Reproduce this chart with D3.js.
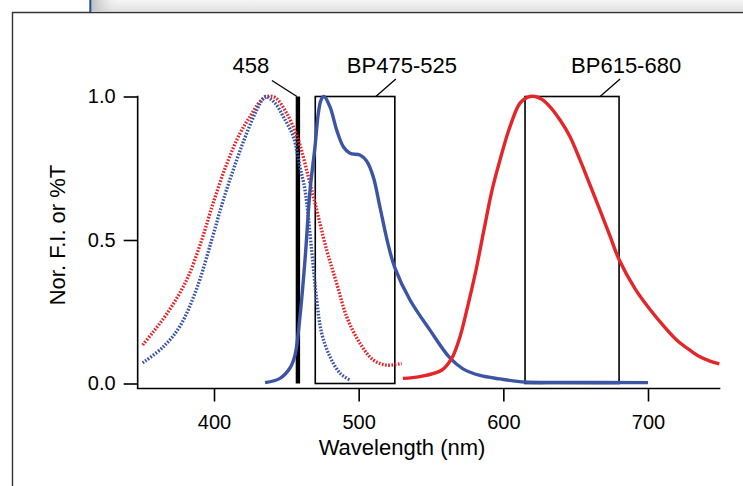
<!DOCTYPE html>
<html>
<head>
<meta charset="utf-8">
<title>Spectra</title>
<script src="https://cdn.jsdelivr.net/npm/d3@7/dist/d3.min.js"></script>
<style>
  html, body { margin: 0; padding: 0; background: #fff; }
  text { font-family: "Liberation Sans", Arial, Helvetica, sans-serif; fill: #000; }
</style>
</head>
<body>
<div id="chart"></div>
<script>
// excitation (dotted) and emission (solid) spectra, normalised
var exRedNm  = [350.7, 358.0, 367.7, 381.1, 391.5, 399.5, 408.8, 418.0, 424.9, 431.8, 437.3, 442.2, 450.3, 458.3, 465.2, 470.0, 477.9, 484.8, 491.7, 500.9, 510.1, 519.4, 529.7];
var exRedVal = [0.134, 0.180, 0.245, 0.361, 0.500, 0.630, 0.765, 0.872, 0.930, 0.982, 1.000, 0.997, 0.941, 0.848, 0.721, 0.625, 0.465, 0.349, 0.233, 0.140, 0.082, 0.064, 0.070];

var exBlueNm  = [350.7, 365.0, 376.5, 388.0, 398.4, 406.4, 415.7, 422.6, 429.5, 434.1, 435.9, 442.2, 447.9, 454.8, 459.4, 462.9, 467.5, 471.0, 474.4, 480.2, 487.1, 494.0];
var exBlueVal = [0.072, 0.128, 0.200, 0.330, 0.500, 0.639, 0.779, 0.872, 0.953, 0.994, 1.000, 0.977, 0.930, 0.860, 0.755, 0.674, 0.465, 0.291, 0.176, 0.093, 0.036, 0.012];

var emBlueNm  = [435.3, 445.6, 452.5, 456.0, 459.4, 462.9, 466.4, 469.8, 472.1, 474.0, 476.0, 480.2, 484.8, 489.4, 494.0, 500.9, 505.5, 510.1, 514.7, 520.2, 525.1, 535.5, 549.3, 563.1, 572.1, 583.9, 597.7, 615.0, 639.2, 700.0];
var emBlueVal = [0.003, 0.018, 0.054, 0.099, 0.232, 0.430, 0.674, 0.824, 0.941, 0.988, 1.000, 0.964, 0.883, 0.825, 0.802, 0.796, 0.775, 0.720, 0.615, 0.488, 0.402, 0.291, 0.186, 0.089, 0.051, 0.028, 0.016, 0.005, 0.004, 0.003];

var emRedNm  = [530.6, 542.4, 557.6, 564.5, 570.0, 575.6, 581.1, 586.6, 592.2, 597.7, 604.6, 611.5, 617.0, 621.9, 626.7, 632.3, 639.2, 646.1, 653.0, 659.9, 666.8, 673.7, 680.0, 691.1, 701.4, 711.8, 720.0, 729.0, 735.9, 742.8, 749.3];
var emRedVal = [0.018, 0.024, 0.047, 0.089, 0.162, 0.274, 0.395, 0.535, 0.674, 0.779, 0.895, 0.977, 0.998, 1.000, 0.990, 0.964, 0.918, 0.860, 0.779, 0.692, 0.604, 0.514, 0.432, 0.330, 0.258, 0.195, 0.151, 0.116, 0.093, 0.078, 0.068];

var bandLo = [470, 615];
var bandHi = [525, 680];
var bandNames = ["BP475-525", "BP615-680"];
var laserNm = 458;
var laserName = "458";

var xTicks = [400, 500, 600, 700];
var yTicks = [0.0, 0.5, 1.0];

var W = 743, H = 486;
var blue = "#3b55a4", red = "#e4262b";

var svg = d3.select("#chart").append("svg").attr("width", W).attr("height", H);

// page frame bits
var defs = svg.append("defs");
var g1 = defs.append("linearGradient").attr("id", "topshade").attr("x1", "0%").attr("y1", "0%").attr("x2", "0%").attr("y2", "100%");
g1.append("stop").attr("offset", "0%").attr("stop-color", "#f6f6f6");
g1.append("stop").attr("offset", "100%").attr("stop-color", "#e2e2e2");
var g2 = defs.append("linearGradient").attr("id", "leftshade").attr("x1", "0%").attr("y1", "0%").attr("x2", "100%").attr("y2", "0%");
g2.append("stop").attr("offset", "0%").attr("stop-color", "#bdbdbd").attr("stop-opacity", 1);
g2.append("stop").attr("offset", "100%").attr("stop-color", "#e8e8e8").attr("stop-opacity", 0);
svg.append("rect").attr("x", 91).attr("y", 0).attr("width", W - 91).attr("height", 11).attr("fill", "url(#topshade)");
svg.append("rect").attr("x", 91).attr("y", 0).attr("width", 28).attr("height", 11).attr("fill", "url(#leftshade)");
svg.append("line").attr("x1", 90.3).attr("x2", 90.3).attr("y1", 0).attr("y2", 12).attr("stroke", "#1d4f9e").attr("stroke-width", 2);
svg.append("path").attr("d", "M12.5," + H + "V12.5H" + W).attr("fill", "none").attr("stroke", "#333").attr("stroke-width", 1.4);

// scales
var x = d3.scaleLinear().domain([400, 700]).range([214, 648]);
var y = d3.scaleLinear().domain([0, 1]).range([383.5, 96.5]);

var axisX = x(350) - 4;   // y axis sits a bit left of the data
var axisY = y(0) + 5;     // x axis sits a bit below zero

var plot = svg.append("g");

// y axis
var ya = plot.append("g").attr("transform", "translate(" + axisX + ",0)")
  .call(d3.axisLeft(y).tickValues(yTicks).tickFormat(d3.format(".1f")).tickSize(14).tickPadding(8));
ya.select(".domain").remove();
ya.selectAll(".tick line").attr("stroke", "#000").attr("stroke-width", 1.6);
ya.selectAll(".tick text").style("font-size", "20px").attr("font-family", null);
plot.append("line").attr("x1", axisX).attr("x2", axisX).attr("y1", y(1) - 0.8).attr("y2", axisY)
  .attr("stroke", "#000").attr("stroke-width", 1.6);

// x axis
var xa = plot.append("g").attr("transform", "translate(0," + axisY + ")")
  .call(d3.axisBottom(x).tickValues(xTicks).tickFormat(d3.format("d")).tickSize(13).tickPadding(13));
xa.select(".domain").remove();
xa.selectAll(".tick line").attr("stroke", "#000").attr("stroke-width", 1.6);
xa.selectAll(".tick text").style("font-size", "20px").attr("font-family", null);
plot.append("line").attr("x1", axisX - 0.8).attr("x2", x(750)).attr("y1", axisY).attr("y2", axisY)
  .attr("stroke", "#000").attr("stroke-width", 1.6);

// axis titles
svg.append("text").attr("x", 402).attr("y", 455).attr("text-anchor", "middle")
  .style("font-size", "22px").text("Wavelength (nm)");
svg.append("text").attr("transform", "translate(65,235) rotate(-90)").attr("text-anchor", "middle")
  .style("font-size", "22px").text("Nor. F.I. or %T");

// filter boxes
bandLo.forEach(function (lo, i) {
  var hi = bandHi[i];
  plot.append("rect").attr("x", x(lo)).attr("y", y(1)).attr("width", x(hi) - x(lo)).attr("height", y(0) - y(1))
    .attr("fill", "none").attr("stroke", "#000").attr("stroke-width", 1.6);
  plot.append("line").attr("x1", x(hi) - 19).attr("y1", y(1)).attr("x2", x(hi) + 1).attr("y2", y(1) - 17.5)
    .attr("stroke", "#000").attr("stroke-width", 1.3);
  plot.append("text").attr("x", x(hi) - 48).attr("y", y(1) - 24).style("font-size", "22px").text(bandNames[i]);
});

// laser line
plot.append("line").attr("x1", x(laserNm)).attr("x2", x(laserNm)).attr("y1", y(1)).attr("y2", y(0))
  .attr("stroke", "#000").attr("stroke-width", 4.4);
plot.append("line").attr("x1", x(laserNm) - 1).attr("y1", y(1)).attr("x2", x(laserNm) - 26).attr("y2", y(1) - 16)
  .attr("stroke", "#000").attr("stroke-width", 1.3);
plot.append("text").attr("x", x(laserNm) - 47).attr("y", y(1) - 23.5).attr("text-anchor", "middle")
  .style("font-size", "22px").text(laserName);

// spectra
var line = d3.line().x(function (d) { return x(d[0]); }).y(function (d) { return y(d[1]); })
  .curve(d3.curveCatmullRom.alpha(0.5));
function zip(a, b) { return a.map(function (v, i) { return [v, b[i]]; }); }

var series = [
  { pts: zip(exRedNm, exRedVal), color: red, dotted: true },
  { pts: zip(exBlueNm, exBlueVal), color: blue, dotted: true },
  { pts: zip(emBlueNm, emBlueVal), color: blue, dotted: false },
  { pts: zip(emRedNm, emRedVal), color: red, dotted: false }
];
series.forEach(function (s) {
  plot.append("path").attr("d", line(s.pts)).attr("fill", "none")
    .attr("stroke", s.color).attr("stroke-width", 3.4)
    .attr("stroke-dasharray", s.dotted ? "1.7,1.5" : null)
    .attr("stroke-linejoin", "round");
});
</script>
</body>
</html>
